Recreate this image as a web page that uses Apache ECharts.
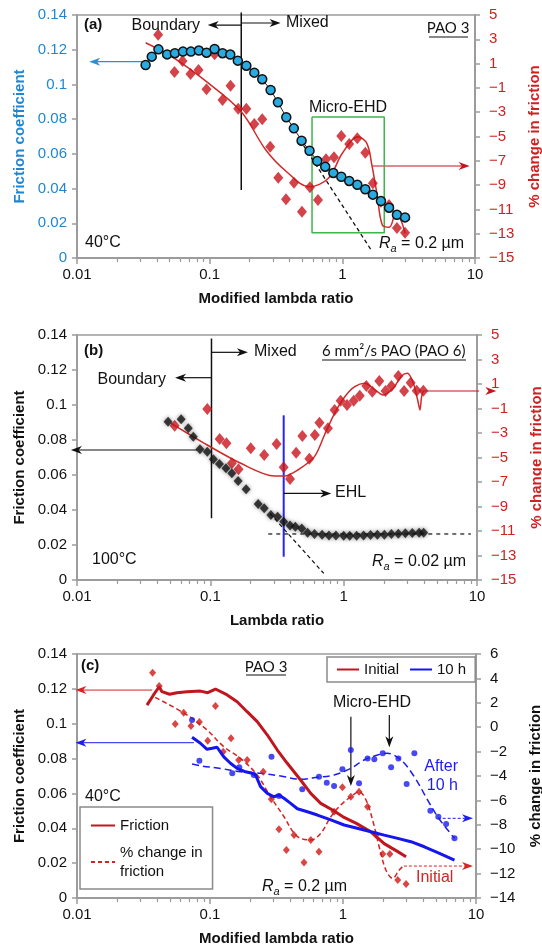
<!DOCTYPE html>
<html>
<head>
<meta charset="utf-8">
<title>Friction coefficient vs lambda ratio</title>
<script src="https://cdn.jsdelivr.net/npm/echarts@6/dist/echarts.min.js"></script>
<style>
  html, body { margin: 0; padding: 0; background: #fff; }
  #main { width: 542px; height: 951px; }
</style>
</head>
<body>
<div id="main"></div>
<script>
// (a) PAO 3, 40°C, Ra = 0.2 µm
var aFriction = [[0.0329,0.1112],[0.0366,0.116],[0.0411,0.1202],[0.0478,0.1173],[0.0547,0.118],[0.0629,0.1189],[0.0722,0.1189],[0.0829,0.1195],[0.0947,0.1183],[0.1089,0.1204],[0.125,0.118],[0.143,0.1172],[0.163,0.1137],[0.189,0.1108],[0.217,0.1068],[0.249,0.103],[0.288,0.0968],[0.327,0.0897],[0.378,0.0811],[0.431,0.0747],[0.493,0.0676],[0.566,0.0618],[0.647,0.0559],[0.743,0.0526],[0.855,0.049],[0.982,0.0468],[1.127,0.0444],[1.297,0.0422],[1.49,0.0396],[1.70,0.0365],[1.955,0.0328],[2.25,0.029],[2.58,0.0249],[2.97,0.0234]];
var aChange = [[0.0409,3.38],[0.0543,0.31],[0.0624,1.21],[0.0717,0.14],[0.0824,0.47],[0.0947,-1.12],[0.1089,1.77],[0.125,-2.0],[0.1436,-0.82],[0.164,-2.71],[0.189,-2.71],[0.217,-3.97],[0.249,-3.58],[0.286,-5.84],[0.329,-8.39],[0.376,-10.17],[0.432,-8.8],[0.496,-11.19],[0.570,-9.18],[0.655,-10.23],[0.753,-6.88],[0.865,-6.71],[0.982,-4.96],[1.127,-5.62],[1.297,-5.15],[1.49,-6.33],[1.70,-8.85],[1.955,-10.37],[2.25,-10.64],[2.58,-12.53],[2.97,-12.92]];
var aChangeFit = [[0.0329,2.72],[0.0518,1.57],[0.0947,-0.49],[0.173,-2.96],[0.265,-6.11],[0.380,-7.9],[0.564,-9.13],[0.785,-8.44],[1.0,-6.38],[1.31,-5.02],[1.53,-5.56],[1.67,-7.35],[1.83,-9.81],[2.0,-12.28],[2.26,-12.47],[2.55,-11.19],[2.79,-12.0],[2.97,-12.97]];

// (b) PAO 6, 100°C, Ra = 0.02 µm
var bFriction = [[0.0482,0.0905],[0.0604,0.0918],[0.0683,0.0867],[0.0745,0.0819],[0.0836,0.0747],[0.0949,0.0733],[0.1054,0.069],[0.117,0.0663],[0.131,0.0638],[0.145,0.061],[0.1616,0.0566],[0.1855,0.0518],[0.2284,0.0434],[0.2535,0.041],[0.2845,0.0371],[0.3197,0.0362],[0.355,0.0333],[0.396,0.0312],[0.434,0.0305],[0.485,0.0295],[0.536,0.027],[0.604,0.0263],[0.689,0.0259],[0.776,0.0255],[0.875,0.0255],[1.0,0.0253],[1.11,0.0253],[1.25,0.0253],[1.41,0.0255],[1.59,0.0257],[1.79,0.0259],[2.02,0.0259],[2.28,0.0263],[2.57,0.0265],[2.90,0.0267],[3.27,0.0269],[3.68,0.027],[3.98,0.027]];
var bChange = [[0.054,-2.4],[0.0949,-1.04],[0.1175,-3.49],[0.132,-3.84],[0.145,-5.47],[0.1627,-5.96],[0.201,-4.25],[0.2535,-4.8],[0.314,-3.9],[0.355,-5.8],[0.396,-6.76],[0.44,-4.61],[0.49,-3.24],[0.553,-5.1],[0.608,-3.16],[0.658,-2.16],[0.762,-2.62],[0.855,-1.12],[0.949,-0.36],[1.06,-0.71],[1.19,-0.36],[1.32,0.04],[1.48,0.84],[1.64,0.37],[1.85,1.24],[2.06,0.43],[2.28,0.84],[2.57,1.65],[2.84,0.43],[3.18,1.11],[3.53,0.45],[3.96,0.45]];
var bChangeFit = [[0.0508,-2.21],[0.0949,-3.98],[0.169,-5.47],[0.302,-6.51],[0.359,-6.51],[0.453,-6.02],[0.604,-4.93],[0.718,-3.16],[0.855,-1.39],[1.02,-0.04],[1.21,0.78],[1.44,1.06],[1.66,0.65],[1.98,0.1],[2.35,0.65],[2.72,1.65],[3.01,1.87],[3.33,1.06],[3.59,-0.31],[3.73,-1.12],[3.84,-0.04],[3.96,0.45]];

// (c) PAO 3, initial vs after 10 h
var cFrictionInitial = [[0.0336,0.1107],[0.0376,0.1165],[0.0415,0.1212],[0.0435,0.1184],[0.0497,0.1169],[0.0565,0.1178],[0.0672,0.1184],[0.0847,0.1187],[0.0962,0.1178],[0.1099,0.1199],[0.1346,0.1165],[0.16,0.1126],[0.19,0.1069],[0.2265,0.1012],[0.27,0.0935],[0.3207,0.0849],[0.381,0.0773],[0.48,0.0677],[0.572,0.06],[0.68,0.0543],[0.834,0.0505],[1.0,0.0466],[1.26,0.0428],[1.62,0.038],[2.04,0.0312],[2.58,0.0266],[2.98,0.0237]];
var cFriction10h = [[0.0733,0.0922],[0.0847,0.0888],[0.095,0.0853],[0.1037,0.0859],[0.113,0.0865],[0.127,0.081],[0.1425,0.0773],[0.16,0.0744],[0.185,0.0724],[0.2075,0.0716],[0.22,0.0706],[0.24,0.0639],[0.27,0.06],[0.302,0.0581],[0.33,0.0591],[0.36,0.0572],[0.404,0.0543],[0.454,0.0512],[0.54,0.0495],[0.642,0.0476],[0.81,0.0448],[1.02,0.0419],[1.28,0.04],[1.62,0.038],[2.04,0.0361],[2.58,0.0342],[3.24,0.0323],[4.09,0.0294],[5.16,0.026],[6.89,0.0218]];
var cChangeInitial = [[0.037,4.47],[0.0415,3.38],[0.0548,0.26],[0.0634,1.19],[0.072,0.1],[0.0832,0.43],[0.0961,-1.11],[0.1099,1.74],[0.1256,-2.01],[0.144,-0.91],[0.1644,-2.69],[0.1904,-2.69],[0.2513,-3.65],[0.289,-5.91],[0.33,-8.37],[0.375,-10.07],[0.428,-8.84],[0.509,-11.1],[0.572,-9.25],[0.66,-10.2],[0.857,-6.93],[0.99,-4.93],[1.145,-5.7],[1.32,-5.29],[1.53,-6.52],[1.77,-8.84],[1.99,-10.39],[2.25,-10.39],[2.58,-12.52],[2.98,-12.85]];
var cChangeInitialFit = [[0.0387,2.45],[0.0672,1.0],[0.095,-0.23],[0.127,-1.6],[0.1694,-2.55],[0.2264,-3.92],[0.285,-5.7],[0.36,-7.34],[0.428,-8.7],[0.48,-9.11],[0.572,-9.25],[0.68,-8.7],[0.81,-7.34],[0.96,-6.38],[1.145,-5.7],[1.32,-5.29],[1.49,-5.97],[1.67,-7.61],[1.87,-9.8],[2.1,-11.7],[2.36,-12.39],[2.65,-11.7],[2.89,-11.3]];
var cChange10h = [[0.0733,0.59],[0.0832,-2.75],[0.147,-3.78],[0.166,-3.29],[0.2135,-3.92],[0.29,-2.43],[0.33,-5.64],[0.494,-5.09],[0.66,-4.07],[0.755,-4.55],[0.857,-4.82],[0.99,-3.45],[1.145,-1.87],[1.32,-4.6],[1.53,-2.56],[1.72,-2.63],[1.99,-2.14],[2.3,-3.29],[2.61,-2.56],[3.01,-4.66],[3.44,-2.14],[4.54,-6.85],[5.21,-7.34],[5.96,-7.93],[6.89,-9.11]];
var cChange10hFit = [[0.0733,-3.02],[0.087,-3.18],[0.12,-3.38],[0.1694,-3.65],[0.24,-3.78],[0.34,-4.0],[0.48,-4.27],[0.642,-4.11],[0.857,-3.92],[1.145,-3.38],[1.44,-2.69],[1.82,-2.28],[2.16,-2.14],[2.73,-2.69],[3.44,-4.07],[4.33,-5.97],[5.15,-7.34],[6.13,-8.43],[6.89,-9.11]];

var FONT = 'Liberation Sans';
var AXIS_GRAY = '#9c9c9c';
var BLUE_TXT = '#1f87d2';
var RED_TXT = '#d21f1f';
var RED = '#c8141c';
var ARROW = 'path://M5,0 L10,12 L5,8.5 L0,12 Z';

// minor log ticks (2..9 in each decade), drawn on a hidden linear axis in log10 units
var minorLog = [];
[-2, -1, 0].forEach(function (d) {
  for (var k = 2; k < 10; k++) minorLog.push(d + Math.log10(k));
});

var grids = [
  { left: 77, right: 67, top: 15, height: 243 },
  { left: 77, right: 65, top: 335, height: 245 },
  { left: 77, right: 66, top: 654, height: 244 }
];
var xNames = ['Modified lambda ratio', 'Lambda ratio', 'Modified lambda ratio'];

function minus(v) { return String(v).replace('-', '\u2212'); }

var xAxes = [];
grids.forEach(function (g, i) {
  xAxes.push({
    type: 'log', logBase: 10, gridIndex: i, min: 0.01, max: 10, position: 'bottom',
    name: xNames[i], nameLocation: 'middle', nameGap: 33,
    nameTextStyle: { fontSize: 15, fontWeight: 'bold', color: '#111' },
    axisLine: { onZero: false, lineStyle: { color: AXIS_GRAY, width: 2 } },
    axisTick: { length: 6, lineStyle: { color: AXIS_GRAY, width: 1.5 } },
    axisLabel: { fontSize: 15, color: '#111', margin: 9 },
    splitLine: { show: false }
  });
});
// the second x axis of a grid goes to the top; shift it down onto the bottom line
grids.forEach(function (g, i) {
  xAxes.push({
    type: 'value', gridIndex: i, min: -2, max: 1, position: 'top', offset: -g.height,
    axisLine: { show: false, onZero: false }, axisLabel: { show: false }, splitLine: { show: false },
    axisTick: { inside: true, customValues: minorLog, length: 4, lineStyle: { color: AXIS_GRAY, width: 1.2 } }
  });
});

function leftAxis(i, color, nameColor) {
  return {
    type: 'value', gridIndex: i, position: 'left', min: 0, max: 0.14, interval: 0.02,
    name: 'Friction coefficient', nameLocation: 'middle', nameGap: 50, nameRotate: 90,
    nameTextStyle: { fontSize: 15, fontWeight: 'bold', color: nameColor },
    axisLine: { show: true, onZero: false, lineStyle: { color: AXIS_GRAY, width: 2 } },
    axisTick: { show: true, length: 5, lineStyle: { color: AXIS_GRAY, width: 1.5 } },
    axisLabel: { fontSize: 15, color: color, margin: 10 },
    splitLine: { show: false }
  };
}
function rightAxis(i, min, max, color) {
  return {
    type: 'value', gridIndex: i, position: 'right', min: min, max: max, interval: 2,
    name: '% change in friction', nameLocation: 'middle', nameGap: 52, nameRotate: 90,
    nameTextStyle: { fontSize: 15, fontWeight: 'bold', color: color },
    axisLine: { show: true, onZero: false, lineStyle: { color: AXIS_GRAY, width: 2 } },
    axisTick: { show: true, length: 5, lineStyle: { color: AXIS_GRAY, width: 1.5 } },
    axisLabel: { fontSize: 15, color: color, margin: 14, formatter: minus },
    splitLine: { show: false }
  };
}
var yAxes = [
  leftAxis(0, BLUE_TXT, BLUE_TXT), rightAxis(0, -15, 5, RED_TXT),
  leftAxis(1, '#111', '#111'), rightAxis(1, -15, 5, RED_TXT),
  leftAxis(2, '#111', '#111'), rightAxis(2, -14, 6, '#111')
];

// annotation line (optionally with an arrow head at the last point)
function guide(xi, yi, pts, color, o) {
  o = o || {};
  return {
    type: 'line', xAxisIndex: xi, yAxisIndex: yi, clip: false, silent: true, z: o.z || 3,
    showSymbol: true,
    data: pts.map(function (p, k) {
      var last = k === pts.length - 1 && o.head != null;
      return { value: p, symbol: last ? ARROW : 'none', symbolRotate: last ? o.head : 0, symbolSize: [8, 11] };
    }),
    itemStyle: { color: color },
    lineStyle: { color: color, width: o.width || 1.5, type: o.type || 'solid' },
    emphasis: { disabled: true }
  };
}
var LEFT = 90, RIGHT = -90, DOWN = 180;

var series = [
  // ---- (a)
  guide(0, 0, [[0.173, 0.1415], [0.173, 0.0392]], '#111', { width: 1.5 }),
  guide(0, 0, [[0.173, 0.1342], [0.1064, 0.1342]], '#111', { head: LEFT, width: 1.2 }),
  guide(0, 0, [[0.173, 0.1354], [0.311, 0.1354]], '#111', { head: RIGHT, width: 1.2 }),
  guide(0, 0, [[0.031, 0.1131], [0.0136, 0.1131]], '#2b8fd6', { head: LEFT, width: 1.2 }),
  guide(0, 1, [[1.67, -7.43], [8.28, -7.43]], RED, { head: RIGHT, width: 1.2 }),
  guide(0, 0, [[0.591, 0.0812], [2.07, 0.0812], [2.07, 0.0146], [0.591, 0.0146], [0.591, 0.0812]], '#3db54a', { width: 1.5 }),
  guide(0, 0, [[0.479, 0.068], [1.65, 0.0046]], '#111', { type: [4, 3], width: 1.3 }),
  { type: 'line', xAxisIndex: 0, yAxisIndex: 1, data: aChangeFit, smooth: 0.35, symbol: 'none', z: 4,
    lineStyle: { color: '#d02a2a', width: 1.5 } },
  { type: 'scatter', xAxisIndex: 0, yAxisIndex: 1, data: aChange, symbol: 'diamond', symbolSize: [10, 12], z: 5,
    itemStyle: { color: RED } },
  { type: 'line', xAxisIndex: 0, yAxisIndex: 0, data: aFriction, symbol: 'circle', symbolSize: 9, showSymbol: true, z: 6,
    lineStyle: { color: '#222', width: 1 },
    itemStyle: { color: '#29abe2', borderColor: '#111', borderWidth: 1.5 } },

  // ---- (b)
  guide(1, 2, [[0.102, 0.138], [0.102, 0.0353]], '#111', { width: 1.5 }),
  guide(1, 2, [[0.102, 0.1301], [0.174, 0.1301]], '#111', { head: RIGHT, width: 1.2 }),
  guide(1, 2, [[0.102, 0.1156], [0.0598, 0.1156]], '#111', { head: LEFT, width: 1.2 }),
  guide(1, 2, [[0.0798, 0.0743], [0.0099, 0.0743]], '#111', { head: LEFT, width: 1.2 }),
  guide(1, 2, [[0.355, 0.0941], [0.355, 0.0133]], '#2424ff', { width: 2 }),
  guide(1, 2, [[0.355, 0.0495], [0.734, 0.0495]], '#111', { head: RIGHT, width: 1.2 }),
  guide(1, 2, [[0.272, 0.0263], [9.0, 0.0263]], '#111', { type: [4, 4], width: 1.2 }),
  guide(1, 2, [[0.28, 0.038], [0.709, 0.0038]], '#111', { type: [4, 3], width: 1.2 }),
  guide(1, 3, [[3.96, 0.43], [12.7, 0.43]], RED, { head: RIGHT, width: 1.2 }),
  { type: 'line', xAxisIndex: 1, yAxisIndex: 3, data: bChangeFit, smooth: 0.3, symbol: 'none', z: 4,
    lineStyle: { color: '#d02a2a', width: 1.5 } },
  { type: 'scatter', xAxisIndex: 1, yAxisIndex: 3, data: bChange, symbol: 'diamond', symbolSize: [10, 12], z: 5,
    itemStyle: { color: RED } },
  { type: 'scatter', xAxisIndex: 1, yAxisIndex: 2, data: bFriction, symbol: 'diamond', symbolSize: [9, 10], z: 6,
    itemStyle: { color: '#141414', shadowBlur: 4, shadowColor: 'rgba(0,0,0,0.55)' } },

  // ---- (c)
  guide(2, 4, [[0.0368, 0.1193], [0.0107, 0.1193]], '#d42424', { head: LEFT, width: 1 }),
  guide(2, 4, [[0.0757, 0.0891], [0.0107, 0.0891]], '#1c1cf0', { head: LEFT, width: 1 }),
  guide(2, 4, [[1.146, 0.104], [1.146, 0.0674]], '#111', { head: DOWN, width: 1.2 }),
  guide(2, 4, [[2.23, 0.105], [2.23, 0.0896]], '#111', { head: DOWN, width: 1.2 }),
  guide(2, 5, [[5.15, -7.47], [8.63, -7.47]], '#1c1cf0', { head: RIGHT, width: 1, type: [3, 2] }),
  guide(2, 5, [[2.87, -11.38], [8.63, -11.38]], '#d42424', { head: RIGHT, width: 1, type: [3, 2] }),
  { type: 'line', xAxisIndex: 2, yAxisIndex: 5, data: cChangeInitialFit, smooth: 0.35, symbol: 'none', z: 4,
    lineStyle: { color: '#d42424', width: 1.5, type: [5, 3] } },
  { type: 'line', xAxisIndex: 2, yAxisIndex: 5, data: cChange10hFit, smooth: 0.35, symbol: 'none', z: 4,
    lineStyle: { color: '#1c1cf0', width: 1.5, type: [7, 4] } },
  { type: 'scatter', xAxisIndex: 2, yAxisIndex: 5, data: cChangeInitial, symbol: 'diamond', symbolSize: [7, 8], z: 5,
    itemStyle: { color: '#d01818' } },
  { type: 'scatter', xAxisIndex: 2, yAxisIndex: 5, data: cChange10h, symbol: 'circle', symbolSize: 6, z: 5,
    itemStyle: { color: '#1c1cf0' } },
  { name: 'Initial', type: 'line', xAxisIndex: 2, yAxisIndex: 4, data: cFrictionInitial, symbol: 'none', z: 6,
    color: '#c0171f', lineStyle: { color: '#c0171f', width: 3 } },
  { name: '10 h', type: 'line', xAxisIndex: 2, yAxisIndex: 4, data: cFriction10h, symbol: 'none', z: 6,
    color: '#1515ee', lineStyle: { color: '#1515ee', width: 3 } },
  // legend-only entries
  { name: 'Friction', type: 'line', xAxisIndex: 2, yAxisIndex: 4, data: [], symbol: 'none',
    color: '#c0171f', lineStyle: { color: '#c0171f', width: 2.5 } },
  { name: '% change in\nfriction', type: 'line', xAxisIndex: 2, yAxisIndex: 5, data: [], symbol: 'none',
    color: '#d42424', lineStyle: { color: '#d42424', width: 1.5, type: [4, 3] } }
];

function txt(x, y, text, o) {
  o = o || {};
  return {
    type: 'text', x: x, y: y, z: 100, silent: true,
    style: {
      text: text, fill: o.color || '#111', fontFamily: o.family || FONT,
      fontSize: o.size || 15, fontWeight: o.weight || 'normal',
      align: o.align || 'left', verticalAlign: 'middle', rich: o.rich
    }
  };
}
function rule(x1, x2, y) {
  return { type: 'line', z: 100, silent: true, shape: { x1: x1, y1: y, x2: x2, y2: y }, style: { stroke: '#111', lineWidth: 1 } };
}
var raRich = {
  i: { fontStyle: 'italic', fontSize: 16, fontFamily: FONT, fill: '#111' },
  s: { fontStyle: 'italic', fontSize: 11, fontFamily: FONT, fill: '#111', padding: [9, 0, 0, 0] },
  n: { fontSize: 16, fontFamily: FONT, fill: '#111' }
};

var graphics = [
  // (a)
  txt(84, 25, '(a)', { weight: 'bold' }),
  txt(200, 26, 'Boundary', { align: 'right', size: 16 }),
  txt(286, 23, 'Mixed', { size: 16 }),
  txt(448, 28, 'PAO 3', { align: 'center', family: 'Lato' }), rule(429, 468, 37),
  txt(348, 108, 'Micro-EHD', { align: 'center', size: 16 }),
  txt(85, 243, '40°C', { size: 16 }),
  txt(379, 244, '{i|R}{s|a}{n| = 0.2 µm}', { rich: raRich }),
  // (b)
  txt(84, 351, '(b)', { weight: 'bold' }),
  txt(254, 352, 'Mixed', { size: 16 }),
  txt(166, 380, 'Boundary', { align: 'right', size: 16 }),
  txt(322, 351, '6 mm²/s PAO (PAO 6)', { family: 'Lato' }), rule(322, 466, 360),
  txt(335, 493, 'EHL', { size: 16 }),
  txt(92, 560, '100°C', { size: 16 }),
  txt(372, 562, '{i|R}{s|a}{n| = 0.02 µm}', { rich: raRich }),
  // (c)
  txt(81, 666, '(c)', { weight: 'bold' }),
  txt(266, 667, 'PAO 3', { align: 'center', family: 'Lato' }), rule(246, 286, 675),
  txt(372, 703, 'Micro-EHD', { align: 'center', size: 16 }),
  txt(458, 767, 'After', { align: 'right', size: 16, color: '#1c1cf0' }),
  txt(458, 786, '10 h', { align: 'right', size: 16, color: '#1c1cf0' }),
  txt(416, 878, 'Initial', { size: 16, color: '#d42424' }),
  txt(85, 797, '40°C', { size: 16 }),
  txt(262, 887, '{i|R}{s|a}{n| = 0.2 µm}', { rich: raRich })
];

var chart = echarts.init(document.getElementById('main'), null, { renderer: 'canvas' });
chart.setOption({
  animation: false,
  backgroundColor: '#fff',
  textStyle: { fontFamily: FONT },
  grid: grids.map(function (g) {
    return Object.assign({ show: true, borderColor: AXIS_GRAY, borderWidth: 1.5, outerBoundsMode: 'none', containLabel: false }, g);
  }),
  xAxis: xAxes,
  yAxis: yAxes,
  legend: [
    { data: ['Initial', '10 h'], left: 327, top: 657, orient: 'horizontal', selectedMode: false,
      itemWidth: 22, itemHeight: 10, itemGap: 10, padding: [5, 9, 5, 9], itemStyle: { opacity: 0 },
      borderColor: '#8a8a8a', borderWidth: 1.5, textStyle: { fontSize: 15, color: '#111' } },
    { data: ['Friction', '% change in\nfriction'], left: 80, top: 807, orient: 'vertical', selectedMode: false,
      itemWidth: 24, itemHeight: 10, itemGap: 8, padding: [9, 10, 8, 10], itemStyle: { opacity: 0 },
      borderColor: '#8a8a8a', borderWidth: 1.5, textStyle: { fontSize: 15, color: '#111', lineHeight: 19 } }
  ],
  series: series,
  graphic: graphics
});
window.addEventListener('resize', function () { chart.resize(); });
</script>
</body>
</html>
